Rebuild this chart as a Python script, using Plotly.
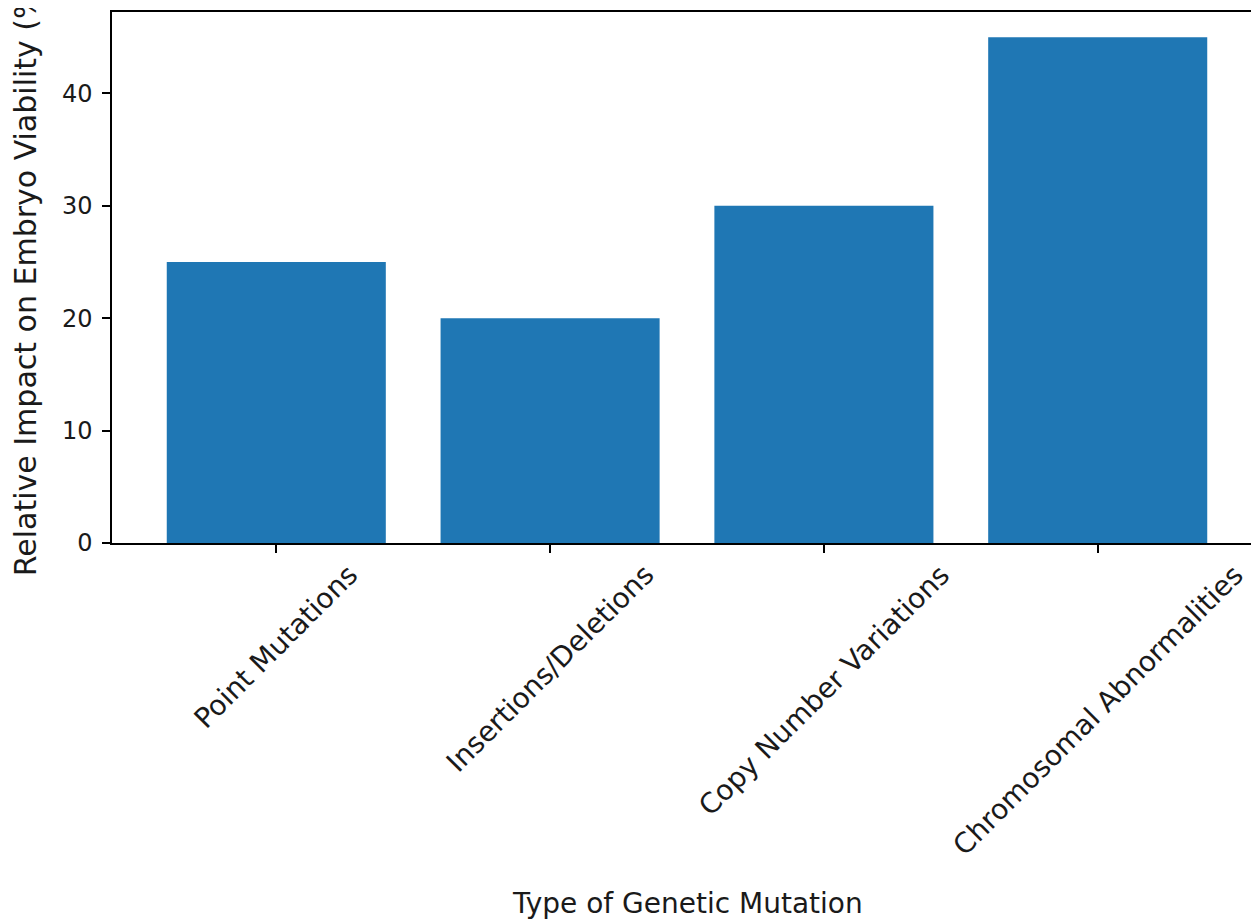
import plotly.graph_objects as go

categories = ["Point Mutations", "Insertions/Deletions", "Copy Number Variations", "Chromosomal Abnormalities"]
impact = [25, 20, 30, 45]
y_ticks = [0, 10, 20, 30, 40]

FONT = "DejaVu Sans"
fig = go.Figure()
fig.add_trace(go.Bar(x=list(range(len(categories))), y=impact, marker_color="#1f77b4",
                     marker_line_width=0, width=0.8))

for i, c in enumerate(categories):
    fig.add_annotation(x=i, xref="x", y=-0.024, yref="paper", text=c, textangle=-45,
                       showarrow=False, xanchor="center", yanchor="top",
                       font=dict(family=FONT, size=28, color="#1a1a1a"))

fig.add_annotation(x=0.5, xref="paper", y=-0.679, yref="paper", text="Type of Genetic Mutation",
                   showarrow=False, xanchor="center", yanchor="middle",
                   font=dict(family=FONT, size=28, color="#1a1a1a"))

fig.update_layout(
    width=1259, height=922,
    margin=dict(l=104, r=5, t=2, b=387),
    plot_bgcolor="white", paper_bgcolor="white",
    showlegend=False,
)
fig.update_xaxes(range=[-0.6, 3.6], tickvals=list(range(len(categories))), showticklabels=False,
                 ticks="outside", ticklen=8, tickwidth=1.5, tickcolor="black",
                 showline=True, linecolor="black", linewidth=1.5, mirror=True, showgrid=False, zeroline=False)
fig.update_yaxes(range=[0, 47.25], tickvals=y_ticks, ticks="outside", ticklen=8, tickwidth=1.5, tickcolor="black",
                 showline=True, linecolor="black", linewidth=1.5, mirror=True, showgrid=False, zeroline=False,
                 ticklabelstandoff=5,
                 tickfont=dict(family=FONT, size=24, color="#1a1a1a"),
                 title=dict(text="Relative Impact on Embryo Viability (%)", font=dict(family=FONT, size=30, color="#1a1a1a"), standoff=16))

fig.write_html("out.html")
